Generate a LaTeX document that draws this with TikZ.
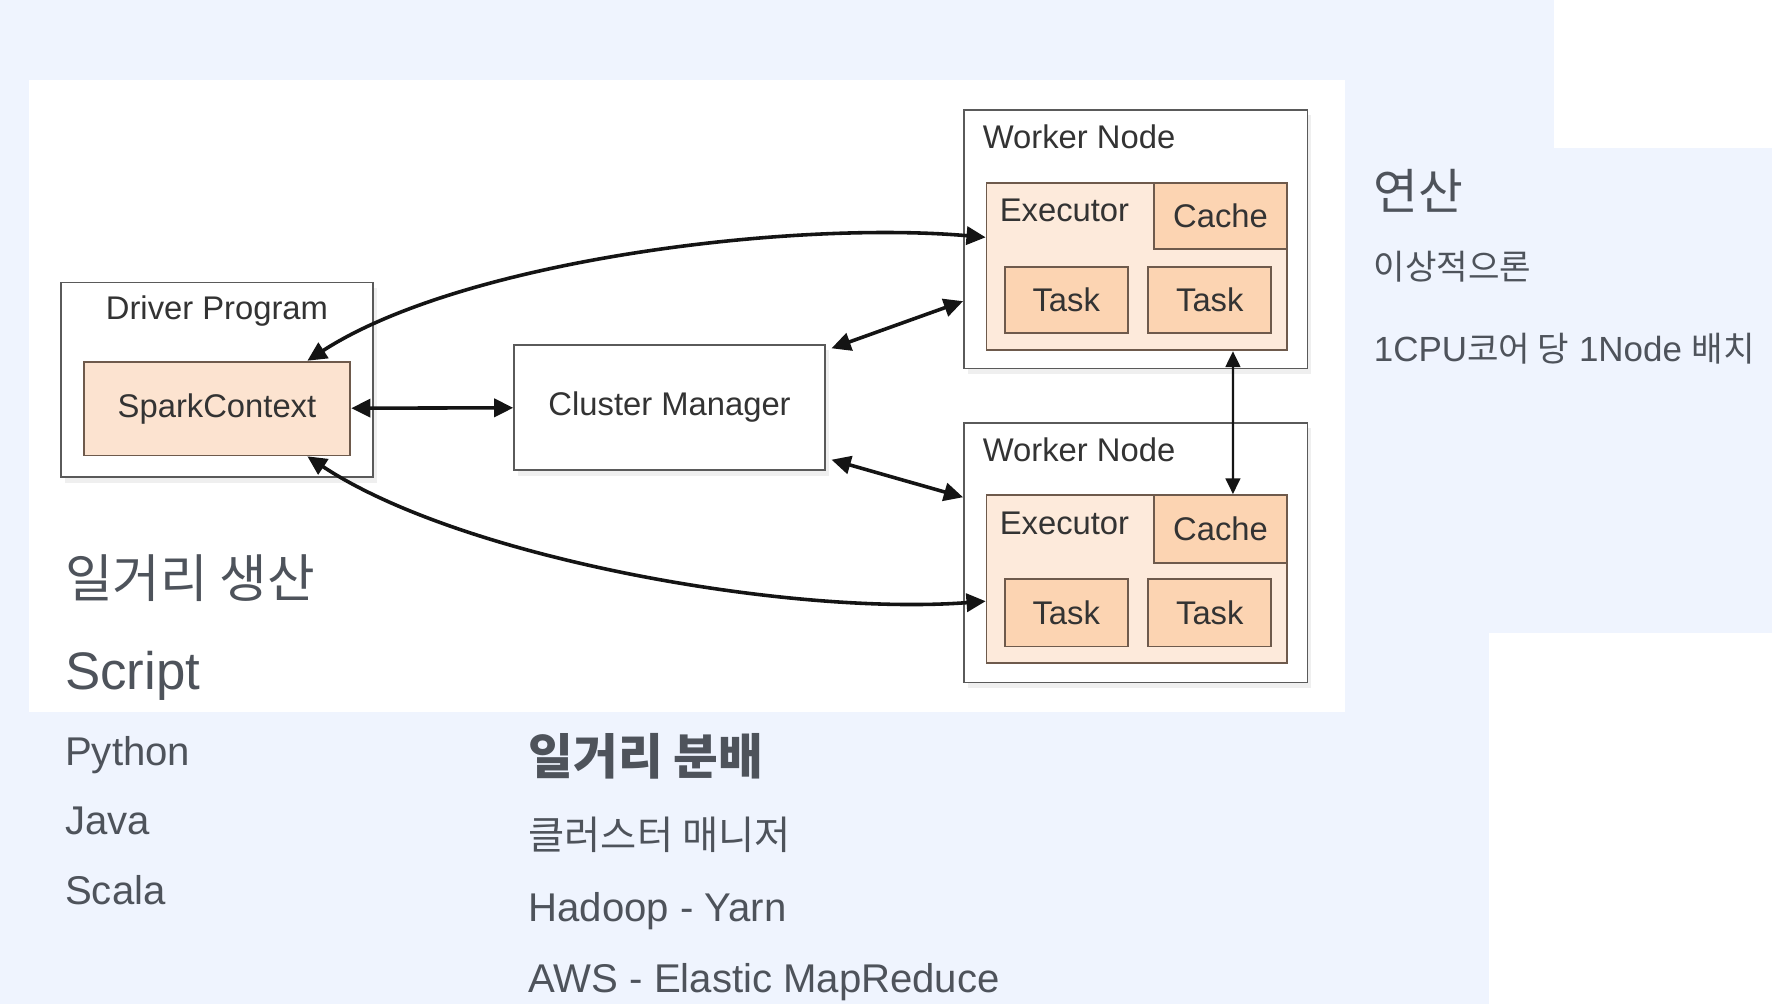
\documentclass[tikz,border=0pt]{standalone}
\usepackage{fontspec}
\setmainfont{Liberation Sans}
\newfontfamily\cjk[Scale=0.98]{Noto Sans CJK KR}
\usetikzlibrary{arrows.meta,shadows}
\definecolor{slidebg}{HTML}{EFF4FE}
\definecolor{slidetext}{HTML}{4E535B}
\definecolor{boxline}{HTML}{5A5A5A}
\definecolor{sparkfill}{HTML}{FCE3D0}
\definecolor{execfill}{HTML}{FDEADB}
\definecolor{taskfill}{HTML}{FCD4B2}
\definecolor{taskline}{HTML}{6E5A4C}
\begin{document}
\begin{tikzpicture}[x=0.1mm,y=-0.1mm,
  box/.style={draw=boxline, line width=0.45pt, fill=white, inner sep=0pt, text=black!80, font=\fontsize{8.25}{10}\selectfont},
  shadowed/.style={drop shadow={shadow xshift=0.35mm, shadow yshift=-0.5mm, opacity=0.12}},
  spark/.style={box, draw=taskline, fill=sparkfill},
  exec/.style={box, draw=taskline, fill=execfill},
  peach/.style={box, draw=taskline, fill=taskfill},
  lbl/.style={inner sep=0pt, text=black!80, font=\fontsize{8.25}{10}\selectfont},
  bigtxt/.style={inner sep=0pt, anchor=base west, text=slidetext, font=\fontsize{13.3}{16}\selectfont},
  headtxt/.style={inner sep=0pt, anchor=base west, text=slidetext, font=\fontsize{12.5}{15}\selectfont},
  midtxt/.style={inner sep=0pt, anchor=base west, text=slidetext, font=\fontsize{10.1}{12}\selectfont},
  smalltxt/.style={inner sep=0pt, anchor=base west, text=slidetext, font=\fontsize{8.8}{11}\selectfont},
  link/.style={<->, >={Triangle[length=1.7mm,width=1.6mm]}, line width=0.9pt, draw=black!92},
  thinlink/.style={<->, >={Triangle[length=1.4mm,width=1.3mm]}, line width=0.6pt, draw=black!92}]
% slide background
\fill [slidebg] (0,0) rectangle (1568,888);
\fill [white] (26,71) rectangle (1190,630);
\fill [white] (1375,0) rectangle (1568,131);
\fill [white] (1318,560) rectangle (1568,888);
\useasboundingbox (0,0) rectangle (1568,888);
% driver
\node [box, shadowed, minimum width=27.6mm, minimum height=17.2mm] (driver) at (192,336) {};
\node [lbl, anchor=base] (driverlbl) at (192,283) {Driver Program};
\node [spark, minimum width=23.6mm, minimum height=8.3mm] (spark) at (192,361.5) {SparkContext};
% cluster manager
\node [box, shadowed, minimum width=27.5mm, minimum height=11.1mm] (cm) at (592.5,360.5) {Cluster Manager};
% worker 1
\node [box, shadowed, minimum width=30.4mm, minimum height=22.9mm] (wa) at (1005,211.5) {};
\node [lbl, anchor=base west] (walbl) at (869,131) {Worker Node};
\node [exec, minimum width=26.6mm, minimum height=14.8mm] (exa) at (1006,236) {};
\node [lbl, anchor=base west] (exalbl) at (884,196) {Executor};
\node [peach, minimum width=11.8mm, minimum height=5.8mm] (caa) at (1080,191) {Cache};
\node [peach, minimum width=10.9mm, minimum height=5.9mm] (taa) at (943.5,265.5) {Task};
\node [peach, minimum width=10.9mm, minimum height=5.9mm] (tab) at (1070.5,265.5) {Task};
% worker 2
\node [box, shadowed, minimum width=30.4mm, minimum height=23mm] (wb) at (1005,489) {};
\node [lbl, anchor=base west] (wblbl) at (869,408) {Worker Node};
\node [exec, minimum width=26.6mm, minimum height=14.9mm] (exb) at (1006,512.5) {};
\node [lbl, anchor=base west] (exblbl) at (884,473) {Executor};
\node [peach, minimum width=11.8mm, minimum height=6mm] (cab) at (1080,468) {Cache};
\node [peach, minimum width=10.9mm, minimum height=6mm] (tba) at (943.5,542) {Task};
\node [peach, minimum width=10.9mm, minimum height=6mm] (tbb) at (1070.5,542) {Task};
% connectors
\draw [link] (spark) -- (cm);
\draw [link] ([shift={(0.5mm,-0.4mm)}]cm.north east) -- ([yshift=-5.5mm]wa.west);
\draw [link] ([shift={(0.5mm,1mm)}]cm.south east) -- ([yshift=4.9mm]wb.west);
\draw [link] ([xshift=8mm]spark.north) .. controls (410,230) and (700,195) .. ([yshift=2.6mm]exa.west);
\draw [link] ([xshift=8mm]spark.south) .. controls (410,495) and (700,545) .. ([yshift=-1.95mm]exb.west);
\draw [thinlink] ([xshift=8.5mm]exa.south) -- ([xshift=1.1mm]cab.north);
% slide text
\node [bigtxt] (produce) at (57,529) {{\cjk 일거리 생산}};
\node [bigtxt] (script) at (57,610) {Script};
\node [midtxt] (python) at (57,677) {Python};
\node [midtxt] (java) at (57,738) {Java};
\node [midtxt] (scala) at (57,800) {Scala};
\node [headtxt] (distribute) at (467,685) {{\cjk\bfseries 일거리 분배}};
\node [midtxt] (cmtxt) at (467,752) {{\cjk 클러스터 매니저}};
\node [midtxt] (yarn) at (467,815) {Hadoop - Yarn};
\node [midtxt] (emr) at (467,878) {AWS - Elastic MapReduce};
\node [headtxt] (compute) at (1215,185) {{\cjk 연산}};
\node [smalltxt] (ideal) at (1215,247) {{\cjk 이상적으론}};
\node [smalltxt] (percpu) at (1215,320) {1CPU{\cjk 코어 당} 1Node {\cjk 배치}};
\end{tikzpicture}
\end{document}
